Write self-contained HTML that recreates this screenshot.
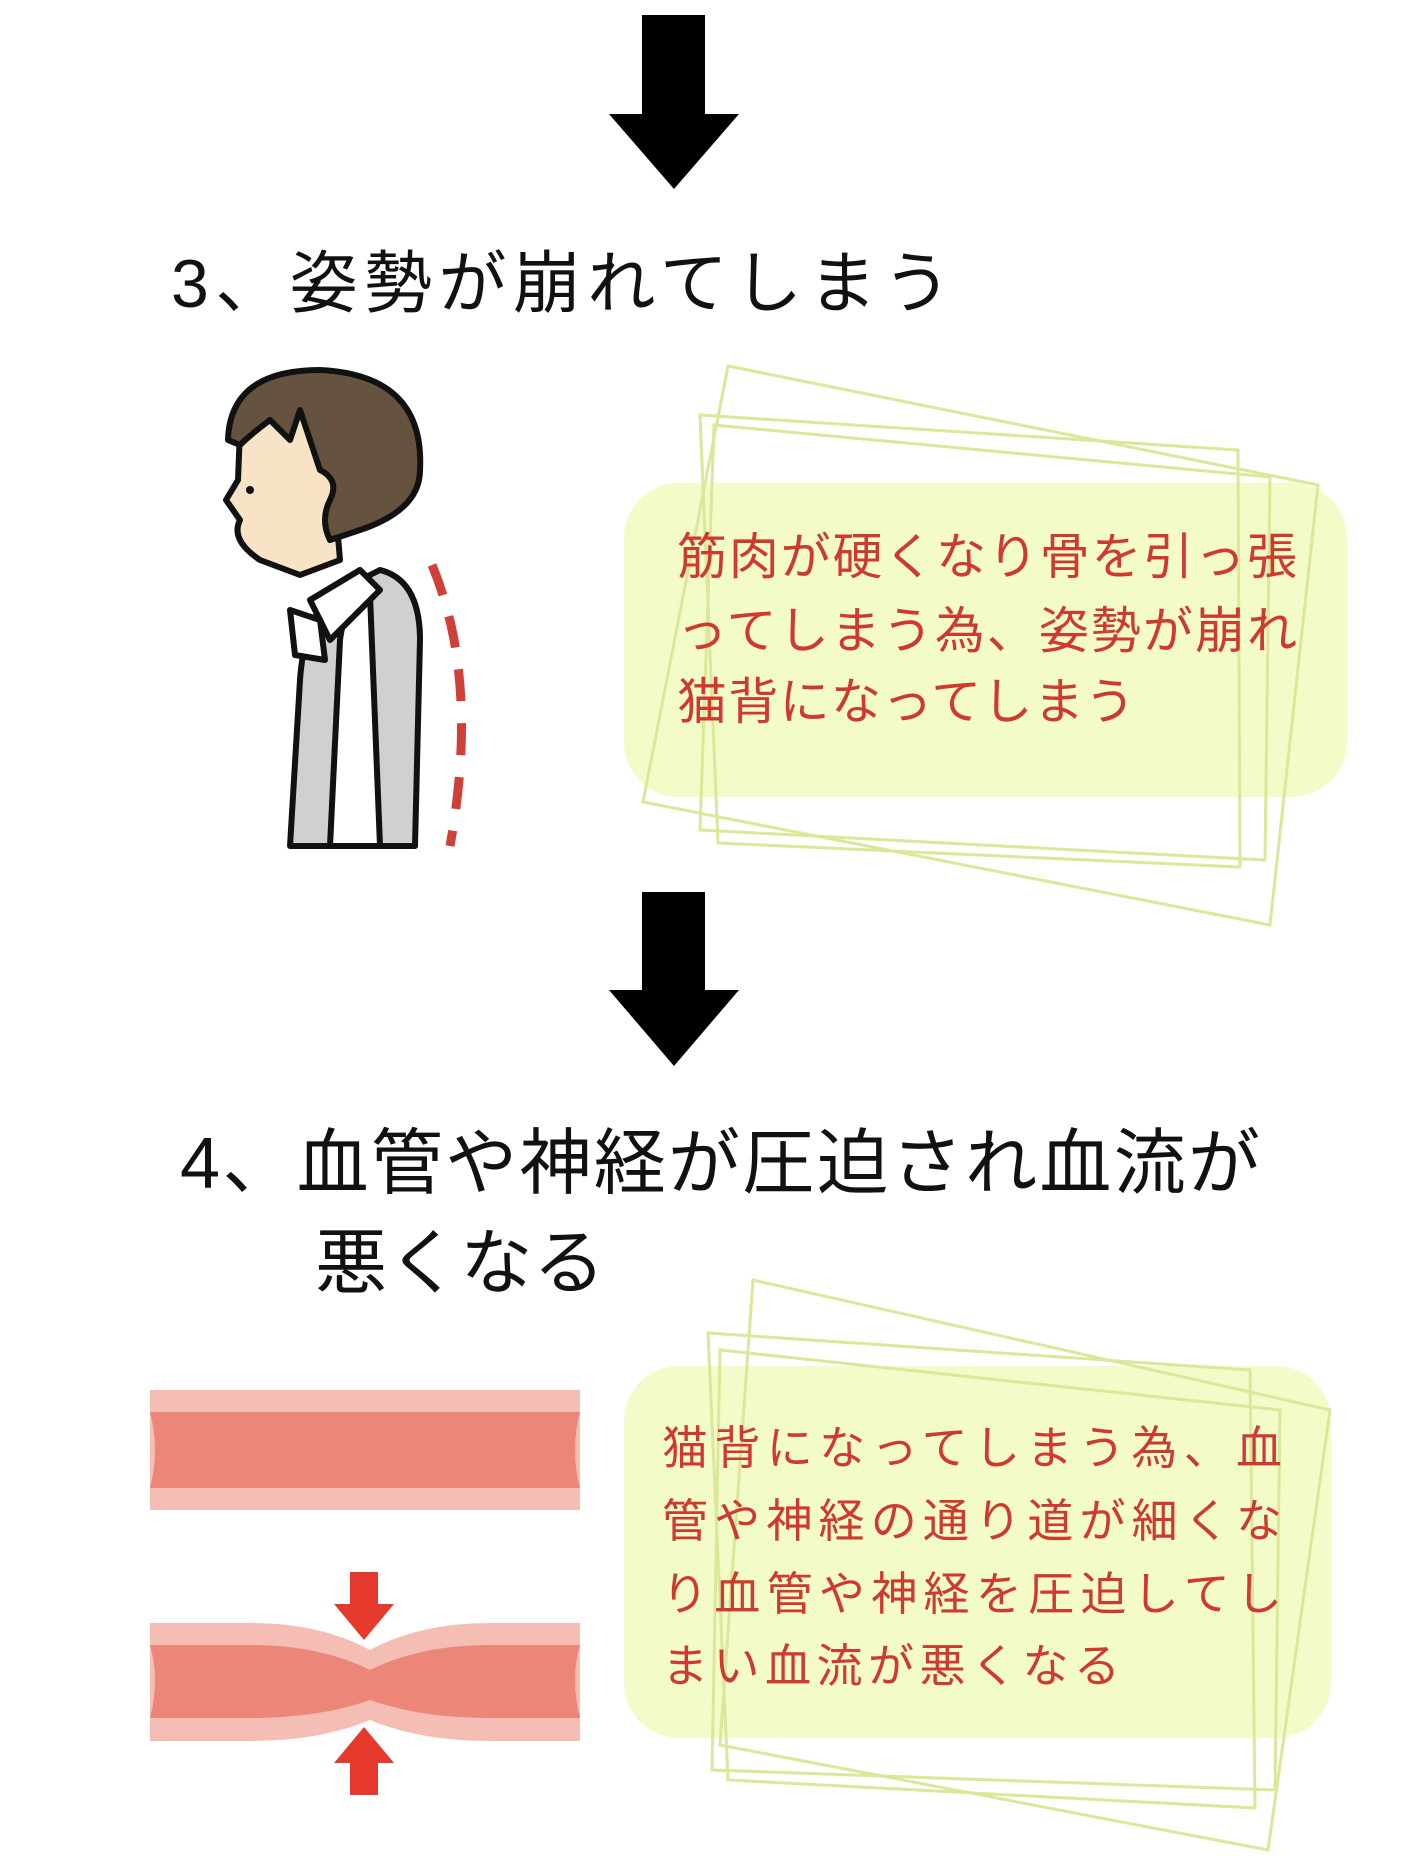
<!DOCTYPE html>
<html><head><meta charset="utf-8"><style>
html,body{margin:0;padding:0;background:#fff;}
svg{display:block;}
text{font-family:"Liberation Sans","Noto Sans CJK JP",sans-serif;}
</style></head><body>
<svg width="1414" height="1860" viewBox="0 0 1414 1860" xmlns="http://www.w3.org/2000/svg">
<!-- arrow 1 -->
<rect x="642" y="15" width="63" height="102" fill="#000"/>
<polygon points="609,114 739,114 674,189" fill="#000"/>
<text x="171" y="307" font-size="68" fill="#111" textLength="780" lengthAdjust="spacing">3、姿勢が崩れてしまう</text>

<!-- person -->
<g stroke="#111" stroke-width="6" stroke-linejoin="round">
<path d="M290,846 L300,680 Q305,610 340,590 L380,570 Q420,580 420,640 L415,846 Z" fill="#d0d0d0"/>
<path d="M330,846 L340,640 Q345,600 370,595 L380,846 Z" fill="#fff"/>
<path d="M310,600 L360,570 L380,590 L330,640 Z" fill="#fff"/>
<path d="M290,610 L320,620 L325,660 L295,655 Z" fill="#fff"/>
<path d="M240,430 Q250,400 300,400 L330,440 L340,560 L300,575 L260,560 Q230,540 240,520 L226,500 L238,480 Z" fill="#f8e3c6"/>
<path d="M228,440 Q230,370 320,370 Q425,375 420,470 Q420,510 360,530 L330,540 Q320,520 330,500 Q340,480 320,470 L300,410 L290,440 L270,420 Q250,435 240,445 Z" fill="#66533f"/>
</g>
<circle cx="250" cy="490" r="4" fill="#111"/>
<path d="M432,565 Q480,680 450,846" stroke="#d0403a" stroke-width="9" fill="none" stroke-dasharray="32,22"/>

<!-- box 1 -->
<rect x="624" y="483" width="723" height="314" rx="55" fill="#f3fbc8"/>
<g fill="none" stroke="#dbe89a" stroke-width="3">
<polygon points="728,366 1318,485 1270,925 643,802"/>
<polygon points="700,415 1238,450 1240,867 718,843"/>
<polygon points="714,425 1270,477 1265,860 700,830"/>
</g>
<g font-size="50" fill="#cf3a30">
<text x="677" y="574" textLength="620" lengthAdjust="spacing">筋肉が硬くなり骨を引っ張</text>
<text x="677" y="648" textLength="620" lengthAdjust="spacing">ってしまう為、姿勢が崩れ</text>
<text x="677" y="719" textLength="458" lengthAdjust="spacing">猫背になってしまう</text>
</g>

<!-- arrow 2 -->
<rect x="642" y="892" width="63" height="102" fill="#000"/>
<polygon points="609,990 739,990 674,1066" fill="#000"/>
<text x="180" y="1188" font-size="72" fill="#111" textLength="1080" lengthAdjust="spacing">4、血管や神経が圧迫され血流が</text>
<text x="315" y="1288" font-size="72" fill="#111" textLength="290" lengthAdjust="spacing">悪くなる</text>

<!-- vessels -->
<rect x="150" y="1390" width="430" height="120" fill="#f4beb5"/>
<path d="M150,1412 L580,1412 Q570,1450 580,1488 L150,1488 Q160,1450 150,1412 Z" fill="#ec8679"/>
<rect x="150" y="1623" width="430" height="118" fill="#fff"/>
<path d="M150,1623 L250,1623 Q320,1623 370,1650 Q420,1623 490,1623 L580,1623 L580,1741 L490,1741 Q420,1741 370,1720 Q320,1741 250,1741 L150,1741 Z" fill="#f4beb5"/>
<path d="M150,1645 L250,1645 Q320,1645 370,1670 Q420,1645 490,1645 L580,1645 Q570,1680 580,1718 L490,1718 Q420,1718 370,1700 Q320,1718 250,1718 L150,1718 Q160,1680 150,1645 Z" fill="#ec8679"/>
<g fill="#e5392d">
<rect x="350" y="1572" width="28" height="34"/><polygon points="334,1604 394,1604 364,1640"/>
<rect x="350" y="1761" width="28" height="34"/><polygon points="334,1763 394,1763 364,1727"/>
</g>

<!-- box 2 -->
<rect x="624" y="1366" width="707" height="372" rx="55" fill="#f3fbc8"/>
<g fill="none" stroke="#dbe89a" stroke-width="3">
<polygon points="753,1280 1330,1410 1268,1850 720,1745"/>
<polygon points="708,1333 1250,1370 1255,1808 728,1780"/>
<polygon points="720,1350 1280,1410 1275,1790 712,1770"/>
</g>
<g font-size="46" fill="#cf3a30">
<text x="662" y="1464" textLength="620" lengthAdjust="spacing">猫背になってしまう為、血</text>
<text x="662" y="1537" textLength="620" lengthAdjust="spacing">管や神経の通り道が細くな</text>
<text x="662" y="1610" textLength="620" lengthAdjust="spacing">り血管や神経を圧迫してし</text>
<text x="662" y="1682" textLength="458" lengthAdjust="spacing">まい血流が悪くなる</text>
</g>
</svg>
</body></html>
